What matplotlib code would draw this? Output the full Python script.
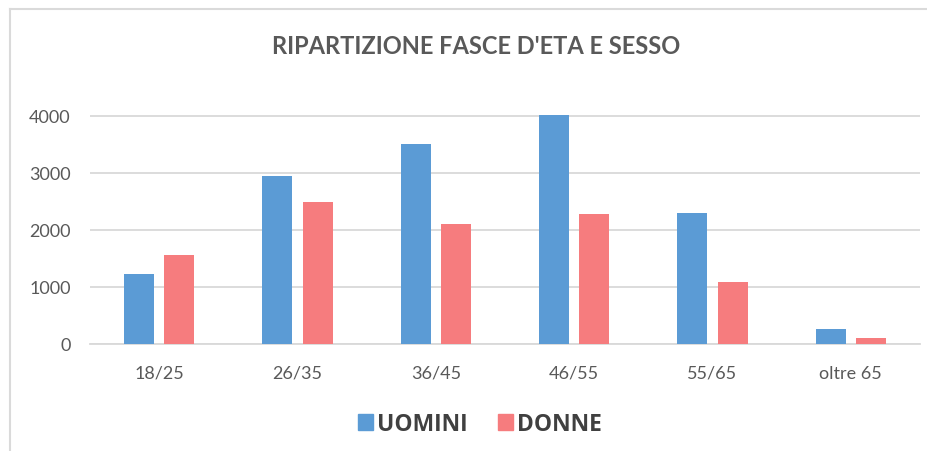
import matplotlib
matplotlib.use("Agg")
import matplotlib.pyplot as plt
import numpy as np
from matplotlib.lines import Line2D
from matplotlib.patches import Patch

categories = ["18/25", "26/35", "36/45", "46/55", "55/65", "oltre 65"]
uomini = [1220, 2950, 3500, 4010, 2290, 260]
donne = [1560, 2480, 2100, 2270, 1090, 100]
series_names = ["UOMINI", "DONNE"]
y_ticks = [0, 1000, 2000, 3000, 4000]

BLUE = "#5B9BD5"
RED = "#F67C7E"
GRID = "#D9D9D9"
TXT = "#595959"

plt.rcParams["font.family"] = ["Lato", "DejaVu Sans"]

fig = plt.figure(figsize=(9.28, 4.52), dpi=100)
W, H = 928, 452
left, right = 90, 920
y0, ytop = 345, 111
ax = fig.add_axes([left / W, (H - y0) / H, (right - left) / W, (y0 - ytop) / H])

x = np.arange(len(categories))
bw = 0.217
off = 0.145
ax.bar(x - off, uomini, width=bw, color=BLUE, zorder=3)
ax.bar(x + off, donne, width=bw, color=RED, zorder=3)

ax.set_xlim(-0.5, len(categories) - 0.5)
ax.set_ylim(0, 4100)
ax.set_yticks(y_ticks)
ax.set_yticklabels([str(v) for v in y_ticks])
ax.set_xticks(x)
ax.set_xticklabels(categories)
ax.yaxis.grid(True, color=GRID, linewidth=1.3, zorder=0)
ax.set_axisbelow(True)
for s in ["top", "right", "left"]:
    ax.spines[s].set_visible(False)
ax.spines["bottom"].set_color(GRID)
ax.spines["bottom"].set_linewidth(1.3)
ax.tick_params(axis="both", length=0, labelsize=13, colors=TXT)
ax.tick_params(axis="y", pad=14)
ax.tick_params(axis="x", pad=15)

fig.text(476 / W, 1 - 47 / H, "RIPARTIZIONE FASCE D'ETA E SESSO", ha="center", va="center",
         fontsize=17, fontweight="bold", color=TXT)

handles = [Patch(color=BLUE), Patch(color=RED)]
fig.legend(handles, series_names, loc="center", bbox_to_anchor=(480 / W, 1 - 425 / H),
           ncol=2, frameon=False, handlelength=0.65, handleheight=0.65, handletextpad=0.2,
           columnspacing=1.3, prop={"family": ["Open Sans", "DejaVu Sans"], "size": 16.5, "weight": "bold"},
           labelcolor="#404040")

# chart frame
fig.add_artist(Line2D([10 / W, 1], [1 - 10 / H, 1 - 10 / H], color="#DADADA", linewidth=1.5,
                      transform=fig.transFigure))
fig.add_artist(Line2D([10 / W, 10 / W], [0, 1 - 10 / H], color="#DADADA", linewidth=1.5,
                      transform=fig.transFigure))

fig.savefig("out.png", dpi=100, facecolor="white")
